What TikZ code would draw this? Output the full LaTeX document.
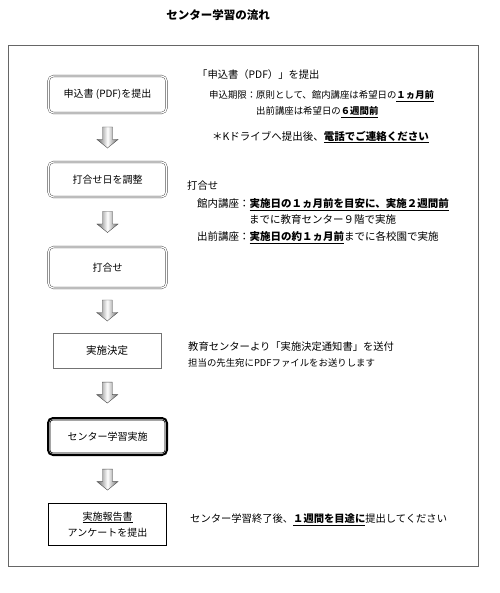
\documentclass[tikz,border=0pt]{standalone}
\usepackage{fontspec}
\setmainfont{Noto Sans CJK JP}
\usetikzlibrary{calc}

\tikzset{
    stepround/.style={draw=black!75, double=white, double distance=1.3pt,
        rounded corners=5pt, minimum width=118pt, inner sep=0pt,
        font=\fontsize{10}{12}\selectfont},
    stepplain/.style={draw=black!55, minimum width=108pt, minimum height=35pt,
        inner sep=0pt, font=\fontsize{10.5}{12}\selectfont},
    stepbold/.style={draw=black, line width=2pt, rounded corners=5pt,
        minimum width=119pt, minimum height=37pt, inner sep=0pt,
        font=\fontsize{10}{12}\selectfont},
    stepreport/.style={draw=black, line width=0.7pt, minimum width=118pt,
        minimum height=42pt, inner sep=0pt, align=center,
        font=\fontsize{10}{16}\selectfont},
    pics/flowarrow/.style={code={
        \draw[black!70, left color=black!60, right color=black!60, middle color=white]
            (-5,-10.5) -- (5,-10.5) -- (5,2) -- (10.5,2) -- (0,10.5)
            -- (-10.5,2) -- (-5,2) -- cycle;
    }},
    note/.style={anchor=west, inner sep=0pt, font=\fontsize{10.3}{12}\selectfont},
    notesmall/.style={note, font=\fontsize{9.4}{11}\selectfont},
    notelarge/.style={note, font=\fontsize{10.5}{12}\selectfont},
}

\begin{document}
\begin{tikzpicture}[x=1pt, y=-1pt]
    \useasboundingbox (0,0) rectangle (499,593);

    % Title and frame
    \node[font=\fontsize{11.5}{13}\selectfont\bfseries] (title) at (218,15) {センター学習の流れ};
    \draw[black!60, line width=0.8pt] (8,45) rectangle (478,566);

    % Steps
    \node[stepround, minimum height=37pt] (b1) at (107.5,94.5) {申込書 (PDF)を提出};
    \node[stepround, minimum height=35pt] (b2) at (107.5,179.5) {打合せ日を調整};
    \node[stepround, minimum height=41pt] (b3) at (107.5,267.5) {打合せ};
    \node[stepplain] (b4) at (107,350.5) {実施決定};
    \node[stepbold] (b5) at (107.5,436.5) {センター学習実施};
    \draw[line width=0.6pt, rounded corners=3pt]
        ([xshift=3pt,yshift=3pt]b5.south west) rectangle ([xshift=-3pt,yshift=-3pt]b5.north east);
    \node[stepreport] (b6) at (107.5,524.5) {\underline{実施報告書}\\アンケートを提出};

    % Arrows between steps
    \foreach \from/\to [count=\i] in {b1/b2, b2/b3, b3/b4, b4/b5, b5/b6}
        \pic (a\i) at ($(\from.south)!0.5!(\to.north)$) {flowarrow};

    % Notes
    \node[note] (n1) at (197,75) {「申込書（PDF）」を提出};
    \node[notesmall] (n2) at (209,96) {申込期限：原則として、館内講座は希望日の\textbf{\underline{１ヵ月前}}};
    \node[notesmall] (n3) at (256,112) {出前講座は希望日の\textbf{\underline{６週間前}}};
    \node[notelarge] (n4) at (212,137) {＊Kドライブへ提出後、\textbf{\underline{電話でご連絡ください}}};

    \node[note] (n5) at (187,186) {打合せ};
    \node[notelarge] (n6) at (197,205) {館内講座：\textbf{\underline{実施日の１ヵ月前を目安に、実施２週間前}}};
    \node[notelarge] (n7) at (249,220) {までに教育センター９階で実施};
    \node[notelarge] (n8) at (197,238) {出前講座：\textbf{\underline{実施日の約１ヵ月前}}までに各校園で実施};

    \node[note] (n9) at (188,347) {教育センターより「実施決定通知書」を送付};
    \node[notesmall] (n10) at (188,363) {担当の先生宛にPDFファイルをお送りします};

    \node[note] (n11) at (190,520) {センター学習終了後、\textbf{\underline{１週間を目途に}}提出してください};
\end{tikzpicture}
\end{document}
